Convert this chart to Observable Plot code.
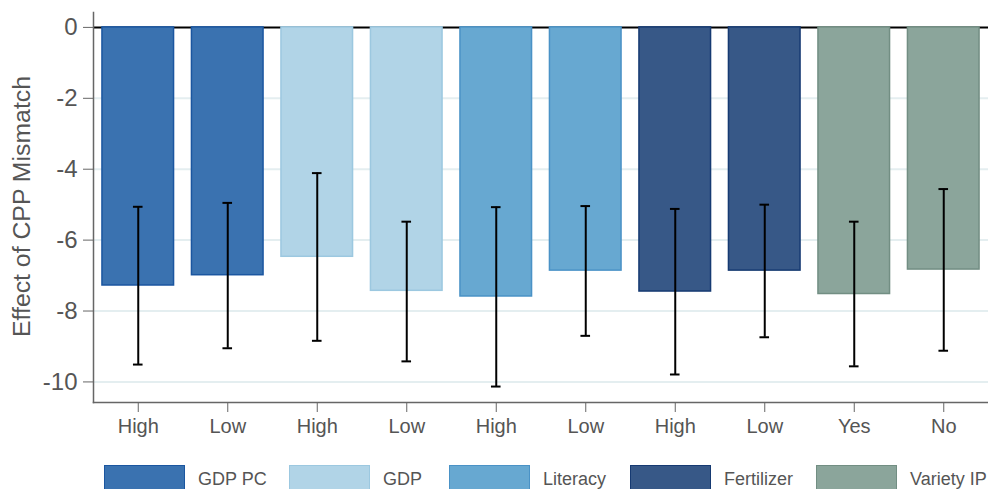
<!DOCTYPE html>
<html>
<head>
<meta charset="utf-8">
<script src="https://cdn.jsdelivr.net/npm/d3@7"></script>
<script src="https://cdn.jsdelivr.net/npm/@observablehq/plot@0.6"></script>
<style>
  html, body { margin: 0; padding: 0; background: #fff; }
  body { width: 988px; height: 489px; overflow: hidden; position: relative; font-family: "Liberation Sans", Arial, Helvetica, sans-serif; }
  #legend { position: absolute; left: 0; top: 465px; width: 988px; height: 30px; }
  .item { position: absolute; top: 0; display: flex; align-items: flex-start; white-space: nowrap; }
  .sw { width: 81px; height: 30px; border: 1.5px solid; box-sizing: border-box; flex-shrink: 0; }
  .lab { font-size: 18px; color: #555; margin-left: 13px; line-height: 20px; margin-top: 4px; white-space: nowrap; }
</style>
</head>
<body>
<div id="chart"></div>
<div id="legend"></div>
<script>
const groups = ["GDP PC","GDP PC","GDP","GDP","Literacy","Literacy","Fertilizer","Fertilizer","Variety IP","Variety IP"];
const levels = ["High","Low","High","Low","High","Low","High","Low","Yes","No"];
const estimates = [-7.28,-6.99,-6.47,-7.43,-7.59,-6.86,-7.45,-6.86,-7.52,-6.83];
const lower = [-9.51,-9.05,-8.84,-9.42,-10.13,-8.70,-9.79,-8.74,-9.56,-9.12];
const upper = [-5.06,-4.95,-4.11,-5.48,-5.07,-5.04,-5.12,-5.00,-5.48,-4.56];
const legendNames = ["GDP PC","GDP","Literacy","Fertilizer","Variety IP"];
const fills = ["#3a72b0","#b1d4e7","#67a8d1","#375887","#8ba59b"];
const strokes = ["#1b56a0","#9cc8e0","#4a92c6","#163a72","#728e83"];
const yTicks = [-10,-8,-6,-4,-2,0];
const yLabel = "Effect of CPP Mismatch";
const legendLefts = [104, 289, 449, 630, 816];

const data = levels.map((l, i) => ({i, level: l, group: groups[i], est: estimates[i], lo: lower[i], hi: upper[i]}));
const strokeOf = g => strokes[legendNames.indexOf(g)];

const chart = Plot.plot({
  width: 988,
  height: 455,
  marginLeft: 93,
  marginRight: 0,
  marginTop: 12,
  marginBottom: 53,
  style: {fontFamily: '"Liberation Sans", Arial, Helvetica, sans-serif', color: "#555", background: "#fff"},
  x: {domain: d3.range(10), paddingInner: 0.2, paddingOuter: 0.1, round: false, axis: null},
  y: {domain: [-10.58, 0.42], axis: null},
  color: {domain: legendNames, range: fills},
  marks: [
    Plot.gridY(yTicks.filter(d => d !== 0), {stroke: "#e4eef0", strokeOpacity: 1, strokeWidth: 2}),
    Plot.ruleY([0], {stroke: "#000", strokeWidth: 2}),
    Plot.barY(data, {x: "i", y1: 0, y2: "est", fill: "group", stroke: d => strokeOf(d.group), strokeWidth: 1.5}),
    Plot.ruleX(data, {x: "i", y1: "lo", y2: "hi", stroke: "#000", strokeWidth: 2}),
    Plot.tickY(data, {x: "i", y: "lo", stroke: "#000", strokeWidth: 2, insetLeft: 31, insetRight: 31}),
    Plot.tickY(data, {x: "i", y: "hi", stroke: "#000", strokeWidth: 2, insetLeft: 31, insetRight: 31}),
    Plot.axisY({ticks: yTicks, tickFormat: d => String(d), tickSize: 10, tickPadding: 6, fontSize: 24, stroke: "#666", label: null}),
    Plot.axisX({tickFormat: i => levels[i], tickSize: 10, tickPadding: 6, fontSize: 20, stroke: "#666", label: null}),
    Plot.text([yLabel], {text: d => d, frameAnchor: "left", rotate: -90, dx: -71.5, dy: -1, fontSize: 24.8, textAnchor: "middle", lineAnchor: "middle", fill: "#555"}),
    Plot.frame({anchor: "left", stroke: "#666", strokeWidth: 1.5}),
    Plot.frame({anchor: "bottom", stroke: "#666", strokeWidth: 1.5})
  ]
});
chart.querySelectorAll("text").forEach(t => t.setAttribute("fill", "#555"));
document.getElementById("chart").appendChild(chart);

const leg = document.getElementById("legend");
legendNames.forEach((n, k) => {
  const it = document.createElement("div");
  it.className = "item";
  it.style.left = legendLefts[k] + "px";
  const sw = document.createElement("div");
  sw.className = "sw";
  sw.style.background = fills[k];
  sw.style.borderColor = strokes[k];
  const lb = document.createElement("div");
  lb.className = "lab";
  lb.textContent = n;
  it.appendChild(sw); it.appendChild(lb);
  leg.appendChild(it);
});
</script>
</body>
</html>
